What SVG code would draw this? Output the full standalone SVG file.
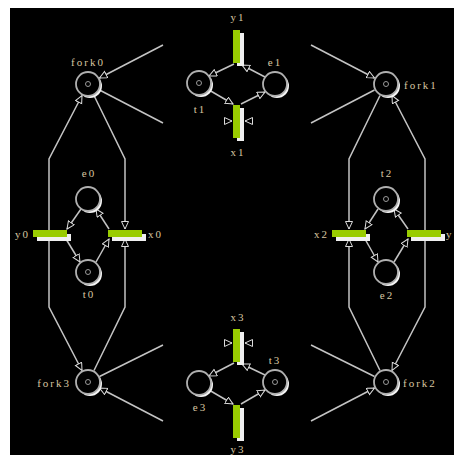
<svg xmlns="http://www.w3.org/2000/svg" width="454" height="455" viewBox="0 0 454 455">
<style>
.conn{stroke:#c4c4c4;stroke-width:1.5;fill:none}
.sh{fill:#f4f4f4}
.pl{fill:#000;stroke:#b0b0b0;stroke-width:1.8}
.tok{fill:none;stroke:#9a9a9a;stroke-width:1}
.bsh{fill:#f0f0f0}
.bar{fill:#99cc00}
text{font-family:"Liberation Serif","DejaVu Serif",serif;font-size:11px;letter-spacing:2px;fill:#d8c6a0}
.m{text-anchor:middle}
.e{text-anchor:end}
</style>
<defs>
<marker id="ar" markerUnits="userSpaceOnUse" markerWidth="10" markerHeight="10" refX="8" refY="4" orient="auto">
<path d="M0.5,0.5 L8,4 L0.5,7.5 z" fill="#000" stroke="#dcdcdc" stroke-width="1"/>
</marker>
</defs>
<rect x="0" y="0" width="454" height="455" fill="#fff"/>
<rect x="10" y="8" width="444" height="447" fill="#000"/>

<g id="connectors">
<path class="conn" d="M163,45 L99.5,78" marker-end="url(#ar)"/>
<path class="conn" d="M99.5,90 L163,123"/>
<path class="conn" d="M49,232 L49,159 L82,95.5" marker-end="url(#ar)"/>
<path class="conn" d="M94,95.5 L125,159 L125,229" marker-end="url(#ar)"/>
<path class="conn" d="M49,235 L49,307 L82,370.5" marker-end="url(#ar)"/>
<path class="conn" d="M94,370.5 L125,307 L125,239" marker-end="url(#ar)"/>
<path class="conn" d="M99.5,376.5 L163,345"/>
<path class="conn" d="M163,421 L99.5,388" marker-end="url(#ar)"/>
<path class="conn" d="M311,45 L374.5,78" marker-end="url(#ar)"/>
<path class="conn" d="M374.5,90 L311,123"/>
<path class="conn" d="M425,232 L425,159 L392,95.5" marker-end="url(#ar)"/>
<path class="conn" d="M380,95.5 L349,159 L349,229" marker-end="url(#ar)"/>
<path class="conn" d="M425,235 L425,307 L392,370.5" marker-end="url(#ar)"/>
<path class="conn" d="M380,370.5 L349,307 L349,239" marker-end="url(#ar)"/>
<path class="conn" d="M374.5,376.5 L311,345"/>
<path class="conn" d="M311,421 L374.5,388" marker-end="url(#ar)"/>
<path class="conn" d="M224,121 L232,121" marker-end="url(#ar)"/>
<path class="conn" d="M253,121 L245,121" marker-end="url(#ar)"/>
<path class="conn" d="M224,343 L232,343" marker-end="url(#ar)"/>
<path class="conn" d="M253,343 L245,343" marker-end="url(#ar)"/>
<path class="conn" d="M234,64 L209,76" marker-end="url(#ar)"/>
<path class="conn" d="M265,77 L242,65" marker-end="url(#ar)"/>
<path class="conn" d="M209,90 L233,104" marker-end="url(#ar)"/>
<path class="conn" d="M241,104 L265,92" marker-end="url(#ar)"/>
<path class="conn" d="M234,363 L209,376" marker-end="url(#ar)"/>
<path class="conn" d="M265,375 L242,364" marker-end="url(#ar)"/>
<path class="conn" d="M209,390 L233,404" marker-end="url(#ar)"/>
<path class="conn" d="M241,404 L265,390" marker-end="url(#ar)"/>
<path class="conn" d="M81,209 L67,229" marker-end="url(#ar)"/>
<path class="conn" d="M66,239 L80,262" marker-end="url(#ar)"/>
<path class="conn" d="M96,262 L109,239" marker-end="url(#ar)"/>
<path class="conn" d="M109,229 L96,209" marker-end="url(#ar)"/>
<path class="conn" d="M378,209 L365,229" marker-end="url(#ar)"/>
<path class="conn" d="M365,239 L378,262" marker-end="url(#ar)"/>
<path class="conn" d="M394,262 L408,239" marker-end="url(#ar)"/>
<path class="conn" d="M408,229 L394,209" marker-end="url(#ar)"/>
</g>

<g id="fork0"><circle class="sh" cx="90" cy="86" r="12"/><circle class="pl" cx="88" cy="84" r="12"/><circle class="tok" cx="88" cy="84" r="2.5"/><text class="m" x="88" y="66">fork0</text></g>
<g id="fork1"><circle class="sh" cx="388" cy="86" r="12"/><circle class="pl" cx="386" cy="84" r="12"/><circle class="tok" cx="386" cy="84" r="2.5"/><text x="404" y="89">fork1</text></g>
<g id="fork3"><circle class="sh" cx="90" cy="384" r="12"/><circle class="pl" cx="88" cy="382" r="12"/><circle class="tok" cx="88" cy="382" r="2.5"/><text class="e" x="71" y="387">fork3</text></g>
<g id="fork2"><circle class="sh" cx="388" cy="384" r="12"/><circle class="pl" cx="386" cy="382" r="12"/><circle class="tok" cx="386" cy="382" r="2.5"/><text x="403" y="387">fork2</text></g>

<g id="t1"><circle class="sh" cx="201" cy="85" r="12"/><circle class="pl" cx="199" cy="83" r="12"/><circle class="tok" cx="199" cy="83" r="2.5"/><text class="m" x="200" y="113">t1</text></g>
<g id="e1"><circle class="sh" cx="277" cy="86" r="12"/><circle class="pl" cx="275" cy="84" r="12"/><text class="m" x="275" y="66">e1</text></g>
<g id="e0"><circle class="sh" cx="90" cy="201" r="12"/><circle class="pl" cx="88" cy="199" r="12"/><text class="m" x="89" y="177">e0</text></g>
<g id="t0"><circle class="sh" cx="90" cy="274" r="12"/><circle class="pl" cx="88" cy="272" r="12"/><circle class="tok" cx="88" cy="272" r="2.5"/><text class="m" x="89" y="298">t0</text></g>
<g id="t2"><circle class="sh" cx="388" cy="201" r="12"/><circle class="pl" cx="386" cy="199" r="12"/><circle class="tok" cx="386" cy="199" r="2.5"/><text class="m" x="387" y="177">t2</text></g>
<g id="e2"><circle class="sh" cx="388" cy="274" r="12"/><circle class="pl" cx="386" cy="272" r="12"/><text class="m" x="387" y="299">e2</text></g>
<g id="e3"><circle class="sh" cx="201" cy="385" r="12"/><circle class="pl" cx="199" cy="383" r="12"/><text class="m" x="200" y="411">e3</text></g>
<g id="t3"><circle class="sh" cx="277" cy="384" r="12"/><circle class="pl" cx="275" cy="382" r="12"/><circle class="tok" cx="275" cy="382" r="2.5"/><text class="m" x="275" y="364">t3</text></g>

<g id="y1"><rect class="bsh" x="237" y="33" width="7" height="33"/><rect class="bar" x="233" y="30" width="7" height="33"/><text class="m" x="238" y="21">y1</text></g>
<g id="x1"><rect class="bsh" x="237" y="108" width="7" height="33"/><rect class="bar" x="233" y="105" width="7" height="33"/><text class="m" x="238" y="156">x1</text></g>
<g id="x3"><rect class="bsh" x="237" y="332" width="7" height="33"/><rect class="bar" x="233" y="329" width="7" height="33"/><text class="m" x="238" y="321">x3</text></g>
<g id="y3"><rect class="bsh" x="237" y="408" width="7" height="33"/><rect class="bar" x="233" y="405" width="7" height="33"/><text class="m" x="238" y="453">y3</text></g>
<g id="y0"><rect class="bsh" x="37" y="234" width="34" height="7"/><rect class="bar" x="33" y="230" width="34" height="7"/><text class="e" x="30" y="238">y0</text></g>
<g id="x0"><rect class="bsh" x="112" y="234" width="34" height="7"/><rect class="bar" x="108" y="230" width="34" height="7"/><text x="148" y="238">x0</text></g>
<g id="x2"><rect class="bsh" x="336" y="234" width="34" height="7"/><rect class="bar" x="332" y="230" width="34" height="7"/><text class="e" x="329" y="238">x2</text></g>
<g id="y2"><rect class="bsh" x="411" y="234" width="34" height="7"/><rect class="bar" x="407" y="230" width="34" height="7"/><text x="446" y="238" style="letter-spacing:0">y</text></g>
</svg>
